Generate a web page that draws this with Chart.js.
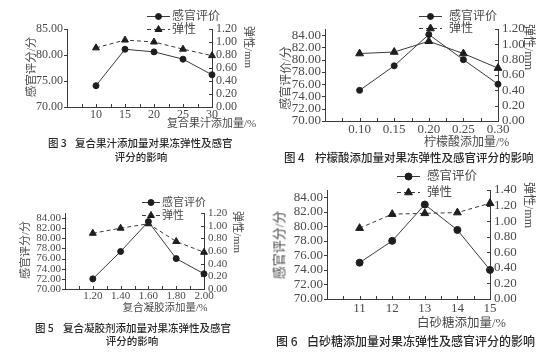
<!DOCTYPE html>
<html><head><meta charset="utf-8">
<script src="https://cdn.jsdelivr.net/npm/chart.js@4/dist/chart.umd.min.js"></script>
<style>
html,body{margin:0;padding:0;background:#fff;}
#wrap{position:relative;width:547px;height:355px;overflow:hidden;background:#fff;}
canvas{position:absolute;left:0;top:0;}
.t{position:absolute;white-space:nowrap;color:#4a4a4a;font-family:'Liberation Serif','Times New Roman','Noto Sans CJK SC',serif;line-height:1;}
.cap{position:absolute;white-space:nowrap;color:#2a2a2a;font-family:'Noto Sans CJK SC',sans-serif;font-weight:500;line-height:1;}
</style></head>
<body><div id="wrap"></div>
<script>
// ---------- data ----------
const juiceX = [10, 15, 20, 25, 30];
const juiceLabels = ['10', '15', '20', '25', '30'];
const juiceSensory = [74.1, 81.1, 80.6, 79.2, 76.2];
const juiceElastic = [0.91, 1.03, 1.00, 0.89, 0.79];

const citricX = [0.10, 0.15, 0.20, 0.25, 0.30];
const citricLabels = ['0.10', '0.15', '0.20', '0.25', '0.30'];
const citricSensory = [75.0, 79.0, 84.1, 80.0, 76.0];
const citricElastic = [0.88, 0.90, 1.04, 0.88, 0.69];

const gelX = [1.20, 1.40, 1.60, 1.80, 2.00];
const gelLabels = ['1.20', '1.40', '1.60', '1.80', '2.00'];
const gelSensory = [72.0, 77.4, 83.3, 76.0, 73.0];
const gelElastic = [0.88, 0.96, 1.03, 0.75, 0.58];

const sugarX = [11, 12, 13, 14, 15];
const sugarLabels = ['11', '12', '13', '14', '15'];
const sugarSensory = [75.0, 78.0, 83.0, 79.5, 74.0];
const sugarElastic = [0.91, 1.09, 1.10, 1.11, 1.23];

const seriesNames = ['感官评价', '弹性'];

// ---------- helpers ----------
const W = 547, H = 355;
const AXIS = '#3a3a3a', TXT = '#4a4a4a', LINE = '#3a3a3a', MARK = '#1e1e1e';
const wrap = document.getElementById('wrap');

function addText(cls, txt, x, y, size, opts = {}) {
  const d = document.createElement('div');
  d.className = cls;
  d.textContent = txt;
  d.style.fontSize = size + 'px';
  d.style.left = x + 'px';
  d.style.top = y + 'px';
  let tf = opts.center ? 'translate(-50%,-50%)' : 'translate(0,-50%)';
  if (opts.rot) tf = 'translate(-50%,-50%) rotate(' + opts.rot + 'deg)';
  d.style.transform = tf;
  if (opts.ls) d.style.letterSpacing = opts.ls + 'px';
  wrap.appendChild(d);
}

const tickPlugin = {
  id: 'innerTicks',
  afterDraw(chart) {
    const ctx = chart.ctx, a = chart.chartArea;
    const sx = chart.scales.x, yl = chart.scales.y, yr = chart.scales.y1;
    ctx.save();
    ctx.strokeStyle = AXIS; ctx.lineWidth = 1;
    ctx.beginPath();
    sx.ticks.forEach(t => { const p = Math.round(sx.getPixelForValue(t.value)) + 0.5; ctx.moveTo(p, a.bottom); ctx.lineTo(p, a.bottom - 3); });
    yl.ticks.forEach(t => { const p = Math.round(yl.getPixelForValue(t.value)) + 0.5; ctx.moveTo(a.left, p); ctx.lineTo(a.left - 3, p); });
    yr.ticks.forEach(t => { const p = Math.round(yr.getPixelForValue(t.value)) + 0.5; ctx.moveTo(a.right, p); ctx.lineTo(a.right - 3, p); });
    ctx.stroke();
    // legend samples
    const lg = chart.options.plugins.innerTicks.legend;
    chart.data.datasets.forEach((ds, i) => {
      const L = lg[i];
      ctx.save();
      ctx.strokeStyle = LINE; ctx.lineWidth = 1;
      ctx.setLineDash(L.dash || []);
      ctx.beginPath(); ctx.moveTo(L.x1, L.y + 0.5); ctx.lineTo(L.x2, L.y + 0.5); ctx.stroke();
      ctx.setLineDash([]);
      ctx.fillStyle = MARK; ctx.strokeStyle = MARK;
      Chart.helpers.drawPoint(ctx, { pointStyle: ds.pointStyle, radius: ds.pointRadius, borderWidth: 1, rotation: 0 }, (L.x1 + L.x2) / 2, L.y + 0.5);
      ctx.restore();
    });
    ctx.restore();
  }
};

function makeChart(c) {
  const cv = document.createElement('canvas');
  cv.width = W; cv.height = H;
  cv.style.width = W + 'px'; cv.style.height = H + 'px';
  wrap.appendChild(cv);
  const step = c.xVals[1] - c.xVals[0];
  const xmin = c.xVals[0] - step, xmax = c.xVals[c.xVals.length - 1];
  const LW = 44, RW = 40, XH = 20;
  const font = { family: "'Liberation Serif', 'Times New Roman', serif", size: c.fs };
  new Chart(cv, {
    type: 'line',
    data: {
      datasets: [
        { label: seriesNames[0], data: c.xVals.map((x, i) => ({ x, y: c.sensory[i] })), yAxisID: 'y',
          borderColor: LINE, borderWidth: 1, pointStyle: 'circle', pointRadius: c.cr,
          pointBackgroundColor: MARK, pointBorderColor: MARK, tension: 0, clip: false },
        { label: seriesNames[1], data: c.xVals.map((x, i) => ({ x, y: c.elastic[i] })), yAxisID: 'y1',
          borderColor: LINE, borderWidth: 1, borderDash: c.dash ? [4, 3] : [], pointStyle: 'triangle', pointRadius: c.tr,
          pointBackgroundColor: MARK, pointBorderColor: MARK, tension: 0, clip: false }
      ]
    },
    options: {
      responsive: false, animation: false, devicePixelRatio: 1,
      layout: { padding: { left: c.L - LW, right: W - c.R - RW, top: c.T, bottom: H - c.B - XH } },
      plugins: { legend: { display: false }, tooltip: { enabled: false },
        innerTicks: { legend: c.legend } },
      scales: {
        x: { type: 'linear', min: xmin, max: xmax,
          afterBuildTicks: s => { const t = []; for (let k = 0; k <= 2 * c.xVals.length; k++) t.push({ value: xmin + k * step / 2 }); s.ticks = t; },
          afterFit: s => { s.height = XH; },
          ticks: { autoSkip: false, maxRotation: 0, color: TXT, font, padding: c.xpad,
            callback: v => { const i = c.xVals.findIndex(x => Math.abs(x - v) < step * 0.01); return i >= 0 ? c.xLabels[i] : ''; } },
          grid: { drawOnChartArea: false, drawTicks: false }, border: { color: AXIS, width: 1 } },
        y: { position: 'left', min: 70, max: 85,
          afterBuildTicks: s => { const t = []; for (let v = 70; v <= 84 + 1e-9 || (c.lstep === 5 && v <= 85); v += c.lstep) t.push({ value: v }); s.ticks = t; },
          afterFit: s => { s.width = LW; },
          ticks: { autoSkip: false, color: TXT, font, padding: 4, callback: v => Number(v).toFixed(2) },
          grid: { drawOnChartArea: false, drawTicks: false }, border: { color: AXIS, width: 1 } },
        y1: { position: 'right', min: 0, max: c.rmax,
          afterBuildTicks: s => { const t = []; for (let k = 0; k * 0.2 <= c.rmax + 1e-9; k++) t.push({ value: k * 0.2 }); s.ticks = t; },
          afterFit: s => { s.width = RW; },
          ticks: { autoSkip: false, color: TXT, font, padding: 4, callback: v => Number(v).toFixed(2) },
          grid: { drawOnChartArea: false, drawTicks: false }, border: { color: AXIS, width: 1 } }
      }
    },
    plugins: [tickPlugin]
  });
}

// ---------- Fig 3 ----------
makeChart({ xVals: juiceX, xLabels: juiceLabels, sensory: juiceSensory, elastic: juiceElastic,
  L: 67, R: 212, T: 29, B: 107, fs: 12, lstep: 5, rmax: 1.2, dash: true, cr: 3, tr: 4, xpad: 1,
  legend: [{ x1: 147, x2: 170, y: 16 }, { x1: 147, x2: 170, y: 29, dash: [4, 3] }] });
addText('t', seriesNames[0], 172, 16, 12);
addText('t', seriesNames[1], 172, 29, 12);
addText('t', '感官评分/分', 32, 67, 11.5, { rot: -90 });
addText('t', '弹性/mm', 248, 47, 11, { rot: 90 });
addText('t', '复合果汁添加量/%', 167, 123, 11);
addText('cap', '图 3', 48, 143, 10.5);
addText('cap', '复合果汁添加量对果冻弹性及感官', 75, 143, 10.5);
addText('cap', '评分的影响', 141, 157, 10.5, { center: true });

// ---------- Fig 4 ----------
makeChart({ xVals: citricX, xLabels: citricLabels, sensory: citricSensory, elastic: citricElastic,
  L: 325, R: 498, T: 29, B: 121, fs: 13, lstep: 2, rmax: 1.2, dash: false, cr: 3, tr: 4.5, xpad: 1,
  legend: [{ x1: 419, x2: 442, y: 16 }, { x1: 419, x2: 442, y: 28, dash: [4, 3] }] });
addText('t', seriesNames[0], 449, 16, 12);
addText('t', seriesNames[1], 449, 28, 12);
addText('t', '感官评价/分', 286, 78, 12, { rot: -90 });
addText('t', '弹性/mm', 529, 47, 12, { rot: 90 });
addText('t', '柠檬酸添加量/%', 424, 142, 12);
addText('cap', '图 4', 284, 158, 11.5);
addText('cap', '柠檬酸添加量对果冻弹性及感官评分的影响', 315, 158, 11.5);

// ---------- Fig 5 ----------
makeChart({ xVals: gelX, xLabels: gelLabels, sensory: gelSensory, elastic: gelElastic,
  L: 65, R: 204, T: 213, B: 289, fs: 11, lstep: 2, rmax: 1.2, dash: true, cr: 3, tr: 4, xpad: 1,
  legend: [{ x1: 142, x2: 160, y: 202 }, { x1: 142, x2: 160, y: 215, dash: [4, 3] }] });
addText('t', seriesNames[0], 162, 202, 11);
addText('t', seriesNames[1], 162, 215, 11);
addText('t', '感官评分/分', 25, 250, 11, { rot: -90 });
addText('t', '弹性/mm', 237, 232, 11, { rot: 90 });
addText('t', '复合凝胶添加量/%', 165, 308, 10.5, { center: true });
addText('cap', '图 5', 35, 328, 10.5);
addText('cap', '复合凝胶剂添加量对果冻弹性及感官', 63, 328, 10.5);
addText('cap', '评分的影响', 132, 341, 10.5, { center: true });

// ---------- Fig 6 ----------
makeChart({ xVals: sugarX, xLabels: sugarLabels, sensory: sugarSensory, elastic: sugarElastic,
  L: 327, R: 490, T: 190, B: 299, fs: 13, lstep: 2, rmax: 1.4, dash: true, cr: 3.5, tr: 4.5, xpad: 2,
  legend: [{ x1: 397, x2: 420, y: 176 }, { x1: 397, x2: 420, y: 192, dash: [4, 3] }] });
addText('t', seriesNames[0], 427, 176, 12.5);
addText('t', seriesNames[1], 427, 192, 12.5);
addText('t', '感官评分/分', 279, 245, 13, { rot: -90 });
addText('t', '弹性/mm', 529, 205, 12, { rot: 90 });
addText('t', '白砂糖添加量/%', 417, 323, 12.5);
addText('cap', '图 6', 276, 341, 12);
addText('cap', '白砂糖添加量对果冻弹性及感官评分的影响', 307, 341, 12);
</script>
</body></html>
